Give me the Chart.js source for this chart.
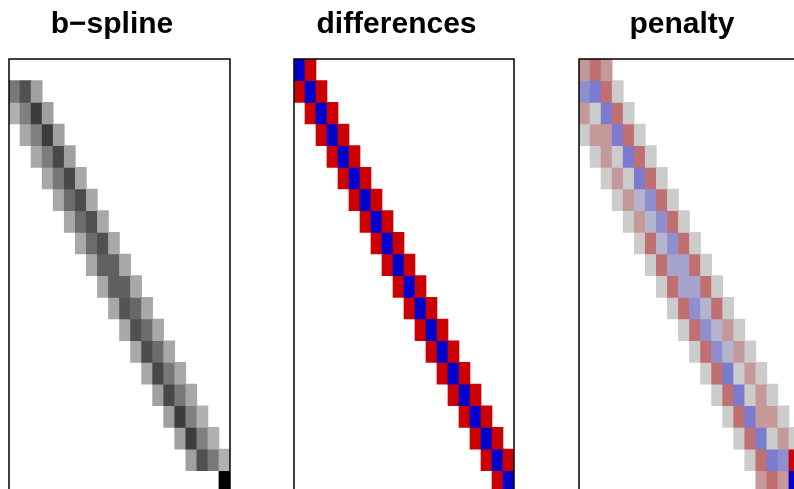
<!DOCTYPE html>
<html>
<head>
<meta charset="utf-8">
<script src="https://cdn.jsdelivr.net/npm/chart.js@4.4.1/dist/chart.umd.min.js"></script>
<style>
  html, body { margin: 0; padding: 0; background: #fff; }
  body { position: relative; width: 794px; height: 489px; overflow: hidden; }
  canvas { position: absolute; top: 0; }
</style>
</head>
<body>
<canvas id="bsplineChart" width="240" height="500" style="left:0px"></canvas>
<canvas id="diffChart" width="260" height="500" style="left:270px"></canvas>
<canvas id="penaltyChart" width="250" height="500" style="left:560px"></canvas>
<script>
'use strict';

// matrix columns (same for the three panels)
var columns = ["1", "2", "3", "4", "5", "6", "7", "8", "9", "10",
               "11", "12", "13", "14", "15", "16", "17", "18", "19", "20"];
var panelTitles = ["b\u2212spline", "differences", "penalty"];

// b-spline basis: first non-zero column of each row + values along the row
var bsplineStart = [0, 0, 0, 1, 2, 3, 4, 5, 6, 7, 8, 9, 10, 11, 12, 13, 14, 15, 16, 19];
var bsplineValues = [
    [],
    [0.40, 0.60, 0.20],
    [0.12, 0.36, 0.70, 0.20],
    [0.16, 0.36, 0.70, 0.20],
    [0.16, 0.38, 0.64, 0.20],
    [0.16, 0.40, 0.64, 0.16],
    [0.16, 0.46, 0.62, 0.16],
    [0.16, 0.46, 0.60, 0.16],
    [0.16, 0.46, 0.60, 0.16],
    [0.16, 0.52, 0.52, 0.16],
    [0.16, 0.52, 0.52, 0.16],
    [0.16, 0.58, 0.48, 0.16],
    [0.16, 0.60, 0.46, 0.16],
    [0.16, 0.62, 0.46, 0.16],
    [0.16, 0.64, 0.40, 0.16],
    [0.20, 0.64, 0.40, 0.16],
    [0.20, 0.70, 0.36, 0.12],
    [0.20, 0.70, 0.36, 0.12],
    [0.20, 0.60, 0.40, 0.12],
    [1.00]
];

// difference matrix
var diffStart = [0, 0, 1, 2, 3, 4, 5, 6, 7, 8, 9, 10, 11, 12, 13, 14, 15, 16, 17, 18];
var diffValues = [
    [-2, 1],
    [1, -2, 1], [1, -2, 1], [1, -2, 1], [1, -2, 1], [1, -2, 1], [1, -2, 1],
    [1, -2, 1], [1, -2, 1], [1, -2, 1], [1, -2, 1], [1, -2, 1], [1, -2, 1],
    [1, -2, 1], [1, -2, 1], [1, -2, 1], [1, -2, 1], [1, -2, 1], [1, -2, 1],
    [1, -2]
];

// penalty matrix (scaled to -1..1, beyond that = saturated)
var penaltyStart = [0, 0, 0, 0, 1, 2, 3, 4, 5, 6, 7, 8, 9, 10, 11, 12, 13, 14, 15, 16];
var penaltyValues = [
    [0.55, 1, 0.55],
    [-0.75, -1, 1, 0],
    [0.55, 0, -1, 1, 0],
    [0, 0.55, 0.55, -1, 1, 0],
    [0, 0.55, 0, -1, 1, 0],
    [0, 0.55, 0, -1, 1, 0],
    [0, 0.55, -0.3, -0.75, 1, 0],
    [0, 0.55, -0.3, -0.75, 1, 0],
    [0, 1, -0.3, -0.75, 1, 0],
    [0, 1, -0.5, -0.5, 1, 0],
    [0, 1, -0.5, -0.5, 1, 0],
    [0, 1, -0.75, -0.3, 1, 0],
    [0, 1, -0.75, -0.3, 0.55, 0],
    [0, 1, -0.75, -0.3, 0.55, 0],
    [0, 1, -1, 0, 0.55, 0],
    [0, 1, -1, 0, 0.55, 0],
    [0, 1, -1, 0.55, 0.55, 0],
    [0, 1, -1, 0, 0.55, 0],
    [0, 1, -1, -0.75, 2],
    [0.55, 1, 0.55, -2]
];


// ------------------------------------------------------- //
// Colour scales
// ------------------------------------------------------ //
function grayColor(v) {
    var g = Math.round(200 * (1 - v));
    return 'rgb(' + g + ',' + g + ',' + g + ')';
}

function diffColor(v) {
    return v > 0 ? '#cc0000' : '#0000cc';
}

function penaltyColor(v) {
    if (v > 1) return '#cc0000';
    if (v < -1) return '#0000cc';
    var base = [204, 204, 204];
    var end = v > 0 ? [192, 112, 112] : [123, 123, 208];
    var t = Math.abs(v);
    var c = base.map(function (b, i) { return Math.round(b + (end[i] - b) * t); });
    return 'rgb(' + c.join(',') + ')';
}


// one floating-bar dataset per matrix row
function rowDatasets(starts, values, colorOf) {
    return values.map(function (row, r) {
        var data = [], colors = [];
        columns.forEach(function (col, c) {
            var k = c - starts[r];
            var v = (k >= 0 && k < row.length) ? row[k] : null;
            data.push(v === null ? null : [r, r + 1]);
            colors.push(v === null ? 'rgba(0,0,0,0)' : colorOf(v));
        });
        return {
            data: data,
            backgroundColor: colors,
            borderWidth: 0,
            grouped: false,
            barPercentage: 1,
            categoryPercentage: 1
        };
    });
}

// box round the image + title above it
function panelPlugin(title) {
    return {
        id: 'panelDeco',
        afterDatasetsDraw: function (chart) {
            var a = chart.chartArea, ctx = chart.ctx;
            ctx.save();
            ctx.strokeStyle = '#000';
            ctx.lineWidth = 1.5;
            ctx.strokeRect(a.left, a.top, a.right - a.left, a.bottom - a.top);
            ctx.fillStyle = '#000';
            ctx.font = 'bold 30px "Liberation Sans", Arial, sans-serif';
            ctx.textAlign = 'center';
            ctx.textBaseline = 'alphabetic';
            ctx.fillText(title, (a.left + a.right) / 2 - 7.5, 33);
            ctx.restore();
        }
    };
}

function makePanel(id, title, datasets, pad) {
    return new Chart(document.getElementById(id), {
        type: 'bar',
        data: { labels: columns, datasets: datasets },
        options: {
            responsive: false,
            animation: false,
            events: [],
            layout: { padding: pad },
            plugins: { legend: { display: false }, tooltip: { enabled: false } },
            scales: {
                x: { type: 'category', display: false, offset: true },
                y: { type: 'linear', min: 0, max: columns.length, reverse: true, display: false }
            }
        },
        plugins: [panelPlugin(title)]
    });
}

makePanel('bsplineChart', panelTitles[0],
    rowDatasets(bsplineStart, bsplineValues, grayColor),
    { left: 9, right: 10, top: 59, bottom: 7.6 });

makePanel('diffChart', panelTitles[1],
    rowDatasets(diffStart, diffValues, diffColor),
    { left: 24, right: 16, top: 59, bottom: 7.6 });

makePanel('penaltyChart', panelTitles[2],
    rowDatasets(penaltyStart, penaltyValues, penaltyColor),
    { left: 19, right: 10, top: 59, bottom: 7.6 });
</script>
</body>
</html>
